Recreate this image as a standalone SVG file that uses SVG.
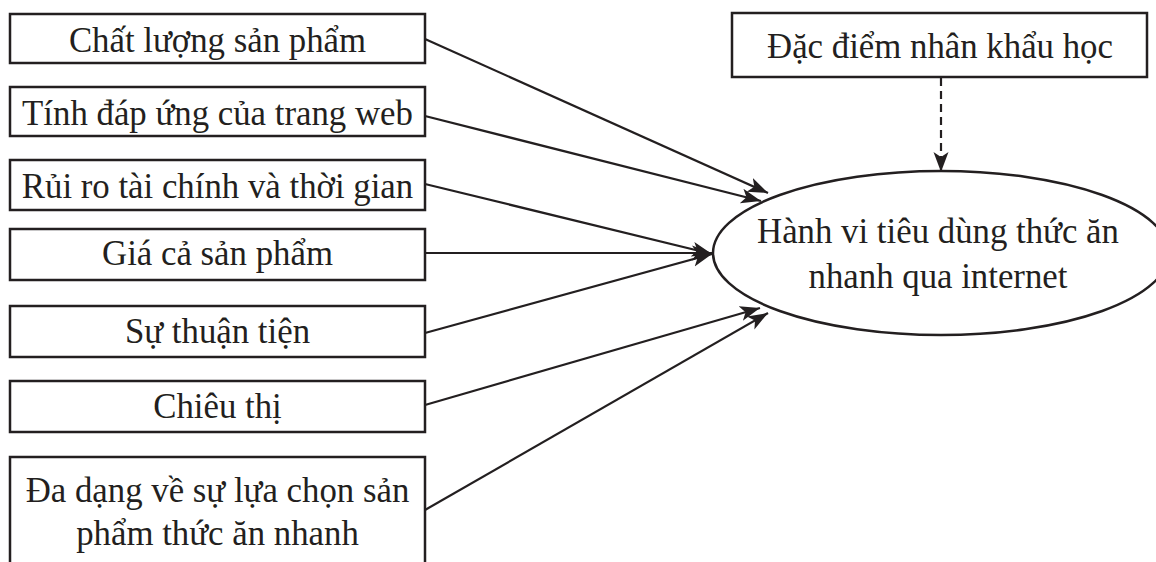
<svg xmlns="http://www.w3.org/2000/svg" width="1156" height="562" viewBox="0 0 1156 562">
<defs>
<style>
.box{fill:#fff;stroke:#231f20;stroke-width:2.5}
.t{font-family:"Liberation Serif","DejaVu Serif",serif;font-size:34.8px;fill:#231f20;text-anchor:middle}
.c{stroke:#231f20;stroke-width:2.2;fill:none}
.d{stroke-dasharray:8 5}
</style>
<marker id="ah" markerUnits="userSpaceOnUse" markerWidth="22" markerHeight="18" viewBox="0 0 22 18" refX="20" refY="9" orient="auto">
<path d="M0,1.5 L20,9 L0,16.5 L5,9 Z" fill="#231f20"/>
</marker>
</defs>
<rect width="1156" height="562" fill="#fff"/>
<g id="n1"><rect class="box" x="10" y="14" width="415" height="49"/><text class="t" x="217.5" y="52">Chất lượng sản phẩm</text></g>
<g id="n2"><rect class="box" x="10" y="87" width="415" height="49"/><text class="t" x="217.5" y="125">Tính đáp ứng của trang web</text></g>
<g id="n3"><rect class="box" x="10" y="160" width="415" height="50"/><text class="t" x="217.5" y="198">Rủi ro tài chính và thời gian</text></g>
<g id="n4"><rect class="box" x="10" y="229" width="415" height="51"/><text class="t" x="217.5" y="265">Giá cả sản phẩm</text></g>
<g id="n5"><rect class="box" x="10" y="306" width="415" height="51"/><text class="t" x="217.5" y="343">Sự thuận tiện</text></g>
<g id="n6"><rect class="box" x="10" y="381" width="415" height="51"/><text class="t" x="217.5" y="418">Chiêu thị</text></g>
<g id="n7"><rect class="box" x="10" y="457" width="415" height="120"/><text class="t" x="217.5" y="502">Đa dạng về sự lựa chọn sản</text><text class="t" x="217.5" y="545">phẩm thức ăn nhanh</text></g>
<g id="n8"><rect class="box" x="732" y="13" width="415" height="64"/><text class="t" x="940" y="58">Đặc điểm nhân khẩu học</text></g>
<g id="n9"><ellipse cx="941" cy="253" rx="228" ry="82" fill="#fff" stroke="#231f20" stroke-width="2.5"/><text class="t" x="938" y="243">Hành vi tiêu dùng thức ăn</text><text class="t" x="938" y="288">nhanh qua internet</text></g>
<g id="connectors">
<line class="c" x1="425" y1="39" x2="768" y2="193" marker-end="url(#ah)"/>
<line class="c" x1="425" y1="116" x2="761" y2="201" marker-end="url(#ah)"/>
<line class="c" x1="425" y1="184" x2="712" y2="254" marker-end="url(#ah)"/>
<line class="c" x1="425" y1="253" x2="712" y2="253" marker-end="url(#ah)"/>
<line class="c" x1="425" y1="333" x2="712" y2="254" marker-end="url(#ah)"/>
<line class="c" x1="425" y1="405" x2="760" y2="308" marker-end="url(#ah)"/>
<line class="c" x1="425" y1="510" x2="768" y2="313" marker-end="url(#ah)"/>
<line class="c d" x1="941" y1="78" x2="941" y2="172" marker-end="url(#ah)"/>
</g>
</svg>
